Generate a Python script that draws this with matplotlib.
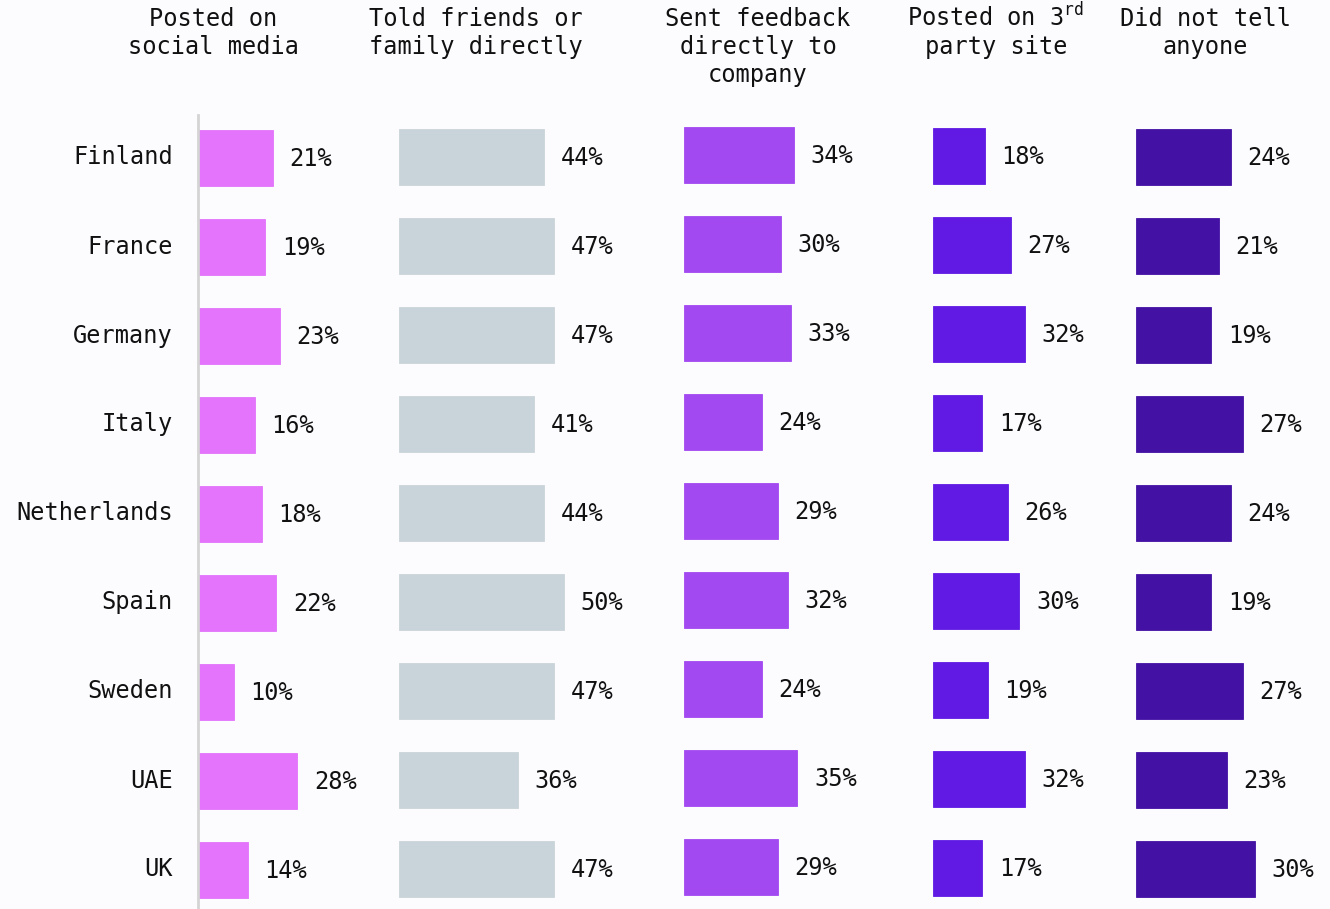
import matplotlib
matplotlib.use("Agg")
import matplotlib.pyplot as plt
import matplotlib.transforms as mtransforms
from matplotlib.lines import Line2D

plt.rcParams["font.family"] = ["DejaVu Sans Mono"]
plt.rcParams["mathtext.fontset"] = "custom"
plt.rcParams["mathtext.rm"] = "DejaVu Sans Mono"

countries = ["Finland", "France", "Germany", "Italy", "Netherlands",
             "Spain", "Sweden", "UAE", "UK"]
headers = [
    "Posted on\nsocial media",
    "Told friends or\nfamily directly",
    "Sent feedback\ndirectly to\ncompany",
    "Posted on 3$^{\\mathrm{rd}}$\nparty site",
    "Did not tell\nanyone",
]
social_media = [21, 19, 23, 16, 18, 22, 10, 28, 14]
friends_family = [44, 47, 47, 41, 44, 50, 47, 36, 47]
feedback_company = [34, 30, 33, 24, 29, 32, 24, 35, 29]
third_party = [18, 27, 32, 17, 26, 30, 19, 32, 17]
told_no_one = [24, 21, 19, 27, 24, 19, 27, 23, 30]

series = [social_media, friends_family, feedback_company, third_party, told_no_one]
colors = ["#e374fb", "#c9d4da", "#a349f2", "#601ae4", "#4312a5"]

# layout in pixels
W, H = 1330, 909
bar_left = [198, 399, 684, 933, 1136]
px_per_pct = [3.55, 3.3, 3.24, 2.88, 3.95]
y_shift = [0, -1, -3, -2, -1]
header_x = [213, 476, 758, 996, 1205]
header_top = [7, 7, 7, 3, 7]
row0, row_step = 158, 89

fig = plt.figure(figsize=(W / 100, H / 100), dpi=100)
fig.patch.set_facecolor("#fcfcff")

for i, vals in enumerate(series):
    top = row0 - row_step / 2 + y_shift[i]
    height = row_step * len(countries)
    ax_w = 190
    ax = fig.add_axes([bar_left[i] / W, 1 - (top + height) / H, ax_w / W, height / H])
    ax.set_facecolor("none")
    ax.barh(range(len(countries)), vals, height=0.63, color=colors[i],
            edgecolor=colors[i], linewidth=0.6)
    ax.set_xlim(0, ax_w / px_per_pct[i])
    ax.set_ylim(len(countries) - 0.5, -0.5)
    for j, v in enumerate(vals):
        ax.annotate(f"{v}%", (v, j), xytext=(12, -1), textcoords="offset points",
                    ha="left", va="center", fontsize=17, color="#111111")
    for s in ax.spines.values():
        s.set_visible(False)
    ax.set_xticks([])
    if i == 0:
        ax.set_yticks(range(len(countries)))
        ax.set_yticklabels(countries, fontsize=17, color="#111111")
        ax.tick_params(axis="y", length=0, pad=18)
        # nudge the country names up a little
        shift = mtransforms.ScaledTranslation(0, 3 / 100, fig.dpi_scale_trans)
        for lbl in ax.get_yticklabels():
            lbl.set_transform(lbl.get_transform() + shift)
    else:
        ax.set_yticks([])
    fig.text(header_x[i] / W, 1 - header_top[i] / H, headers[i], ha="center", va="top",
             fontsize=17, color="#111111", linespacing=1.2)

fig.add_artist(Line2D([198 / W, 198 / W], [1 - 115 / H, 0], color="#d4d4d4",
                      linewidth=2, transform=fig.transFigure))

fig.savefig("out.png", dpi=100, facecolor=fig.get_facecolor())
